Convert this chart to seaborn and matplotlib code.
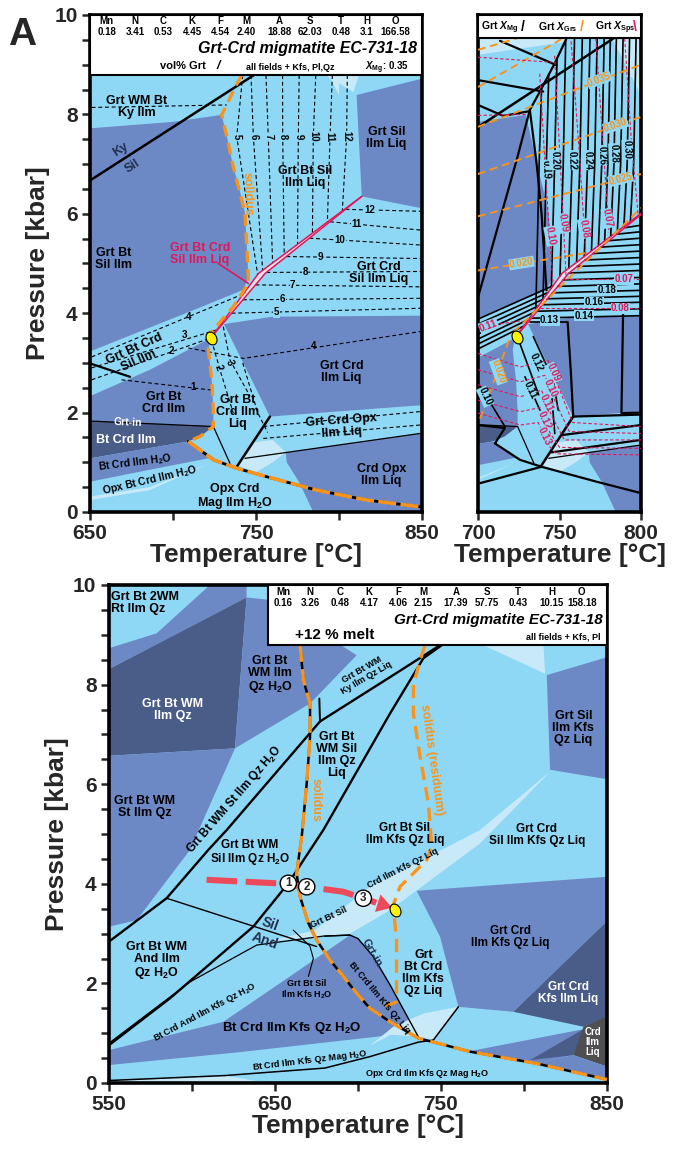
import numpy as np
import matplotlib
matplotlib.use("Agg")
import matplotlib.pyplot as plt
from matplotlib.patches import Rectangle
from matplotlib.markers import MarkerStyle
from matplotlib.transforms import Affine2D
import seaborn as sns

sns.set_theme(style="ticks")
plt.rcParams["font.family"] = ["Liberation Sans", "DejaVu Sans"]
plt.rcParams["font.weight"] = "bold"
plt.rcParams["mathtext.fontset"] = "custom"
plt.rcParams["mathtext.rm"] = "Liberation Sans:bold"
plt.rcParams["mathtext.it"] = "Liberation Sans:italic:bold"
plt.rcParams["mathtext.bf"] = "Liberation Sans:bold"

LIGHT = "#8ED8F6"
MED = "#6C89C6"
DARK = "#4A5C88"
PALE = "#C8EAF8"
GRAY = "#4F4F52"
ORANGE = "#F7941E"
CRIMSON = "#E0185A"
ARROW = "#EC4A5A"
NAVY = "#22304F"
H2O = "H$_2$O"

# ---------------- bulk compositions (header rows) ----------------
oxides = ["Mn", "N", "C", "K", "F", "M", "A", "S", "T", "H", "O"]
bulk_top = ["0.18", "3.41", "0.53", "4.45", "4.54", "2.40", "18.88", "62.03", "0.48", "3.1", "166.58"]
bulk_bot = ["0.16", "3.26", "0.48", "4.17", "4.06", "2.15", "17.39", "57.75", "0.43", "10.15", "158.18"]

# ---------------- upper pseudosection: fields (T degC, P kbar) ----------------
t_grt_bt_sil_ilm = [650, 700, 729.3, 732.8, 736.3, 740, 743.4, 745.4, 742.4, 707, 650]
p_grt_bt_sil_ilm = [7.72, 7.85, 7.99, 7.5, 6.95, 6.5, 6.01, 4.73, 4.47, 3.99, 3.23]
t_grt_sil_ilm_liq = [810.6, 850, 850, 813.7]
p_grt_sil_ilm_liq = [8.39, 8.72, 6.11, 6.35]
t_grt_crd_ilm_liq = [730.7, 760, 850, 850, 758.4]
p_grt_crd_ilm_liq = [3.78, 3.93, 3.95, 2.15, 1.92]
t_crd_opx_ilm_liq = [768, 850, 850, 784.5, 776, 768.5]
p_crd_opx_ilm_liq = [1.2, 1.58, 0, 0, 0.6, 1.0]
t_grt_bt_crd_ilm = [650, 686, 722.7, 721.3, 723.3, 724.3, 724.3, 650]
p_grt_bt_crd_ilm = [2.33, 2.86, 3.5, 3.26, 2.66, 2.05, 1.72, 1.83]
t_bt_crd_ilm = [650, 724.3, 716.3, 709.2, 650]
p_bt_crd_ilm = [1.83, 1.72, 1.52, 1.42, 1.08]
t_bt_crd_ilm_h2o = [650, 709.2, 724.3, 686, 650]
p_bt_crd_ilm_h2o = [1.08, 1.42, 1.1, 0.85, 0.61]
t_pale_opx = [650, 650, 686, 722, 686]
p_pale_opx = [0.24, 0.31, 0.5, 0.98, 0.44]
t_pale_dome = [738.4, 748.4, 760, 768, 760, 750]
p_pale_dome = [0.95, 1.4, 1.45, 1.2, 1.0, 0.8]
t_pale_top = [792, 808.6, 812]
p_pale_top = [8.79, 8.45, 8.79]
t_pale_tr1 = [700, 754, 752, 700]
p_pale_tr1 = [9.53, 9.53, 9.45, 9.2]
t_pale_tr2 = [782, 800, 800]
p_pale_tr2 = [9.53, 9.53, 8.4]

# boundaries
t_kysil = [650, 805]
p_kysil = [6.67, 10.0]
t_red_left = [722.7, 751.5, 813.7]
p_red_left = [3.5, 4.8, 6.35]
t_red_right = [722.7, 755.5, 813.7]
p_red_right = [3.5, 4.8, 6.35]
t_short = [650, 674.1]
p_short = [2.99, 2.72]
t_grtin = [650, 724.3]
p_grtin = [1.83, 1.72]
t_thin1 = [724.3, 734.3]
p_thin1 = [1.72, 0.98]
t_thick1 = [738.4, 758.4]
p_thick1 = [0.91, 1.92]
t_bandbot = [743.4, 848.8]
p_bandbot = [1.08, 1.58]
t_solidus = [741.4, 737.3, 732.3, 729.3, 732.8, 736.3, 743.4, 745.4, 745.4, 736.3, 722.3, 721.3, 723.3, 724.3, 724.3, 716.3, 709.2]
p_solidus = [8.79, 8.54, 8.19, 7.99, 7.5, 6.95, 6.01, 4.73, 4.6, 4.13, 3.59, 3.26, 2.66, 2.05, 1.72, 1.52, 1.42]
t_solidus_low = [709.2, 724.3, 738.4, 756.4, 786.5, 816.7, 850]
p_solidus_low = [1.42, 1.05, 0.88, 0.71, 0.44, 0.24, 0.1]

# vol% Grt isopleths (upper-left panel)
gv_big_n = ["5", "6", "7", "8", "9", "10", "11", "12"]
gv_big_t_top = [742, 747, 756, 766, 776, 786, 796, 805]
gv_big_t_mid = [738.4, 748.4, 757.4, 766.1, 775.5, 784.5, 794.6, 804.6]
gv_big_t_bot = [751, 754, 760, 767, 775, 784, 793, 802]
gv_band_n = ["12", "11", "10", "9", "8", "7", "6", "5"]
gv_band_p_left = [6.09, 5.84, 5.51, 5.14, 4.82, 4.57, 4.27, 4.0]
gv_band_p_right = [6.05, 5.67, 5.37, 5.10, 4.84, 4.53, 4.30, 4.10]
gv_band_t_lab = [818.7, 810.6, 800.6, 788.6, 779.5, 772.1, 766.1, 762.4]
gv_other = [
    ([651, 732.3], [8.14, 8.19]),
    ([651, 744], [3.12, 4.41]),
    ([651, 726], [2.9, 3.66]),
    ([651, 722.7], [2.66, 3.5]),
    ([669, 724.3], [2.66, 2.45]),
    ([709.2, 742.4, 848.8], [3.3, 3.09, 3.63]),
    ([724.3, 728.3, 736.3], [3.33, 2.86, 1.99]),
    ([730.3, 734.3, 746.4], [3.73, 3.06, 2.33]),
    ([742, 751, 757], [3.0, 2.0, 1.6]),
    ([754.4, 848.8], [1.72, 2.02]),
    ([754.4, 848.8], [1.48, 1.75]),
]
gv_other_lab = [("4", 709.2, 3.93, 0), ("3", 707.2, 3.56, 0), ("2", 699.2, 3.23, 0),
                ("1", 712.2, 2.52, 0), ("4", 784.5, 3.33, 0), ("2", 727.3, 2.9, -70),
                ("3", 734.3, 3.0, -70)]

# ---------------- upper-right panel: garnet composition ----------------
tr_black = [
    ([713.5, 748.2], [9.48, 8.99]),
    ([700, 740], [8.69, 8.46]),
    ([700, 715.5, 730.8], [8.19, 7.97, 8.06]),
    ([754.3, 747.1, 738, 731.8, 723.7, 700], [9.53, 9.03, 8.46, 8.09, 7.08, 4.32]),
    ([731.8, 736, 739, 742], [8.09, 7.0, 6.0, 4.46]),
    ([755, 757, 758.4], [3.82, 2.8, 1.92]),
    ([789, 788, 800], [4.0, 1.99, 2.0]),
    ([710.4, 725.7, 739, 772.7, 800], [1.38, 1.05, 0.91, 0.61, 0.38]),
    ([701.2, 739], [0.58, 0.91]),
    ([758.4, 800], [1.92, 1.96]),
    ([752, 800], [1.55, 1.75]),
    ([745, 800], [1.2, 1.45]),
    ([700, 716.5, 710.4], [1.75, 1.69, 1.38]),
]
t_upper_edge = [731.8, 738, 747.1, 754.3]
p_upper_edge = [8.09, 8.46, 9.03, 9.53]
mg_big_t = [737.5, 741.9, 747.0, 752.3, 757.7, 762.5, 767.2, 771.6, 775.9, 779.7, 783.4, 787.5, 791.5, 795.5]
mg_band_p = [3.95, 4.09, 4.22, 4.34, 4.46, 4.59, 4.72, 4.86, 4.99, 5.12, 5.25, 5.38, 5.51, 5.64, 5.77]
mg_left_p = [3.28, 3.38, 3.48, 3.58, 3.68, 3.78, 3.88]
mg_left_t_end = [728, 731, 734, 737, 740, 743, 746]
mg_low = [
    ([731.8, 754.3], [3.83, 3.83]),
    ([725.7, 738], [3.39, 2.29]),
    ([728.8, 738], [2.72, 2.05]),
    ([733.9, 746.1, 749.2], [3.53, 2.66, 2.05]),
    ([745.1, 747.1], [2.39, 1.58]),
    ([701, 716.5], [2.55, 1.72]),
]
grs_lines = [
    ([700, 724], [9.3, 9.53]),
    ([700, 752], [8.55, 9.53]),
    ([700, 800], [7.75, 9.0]),
    ([700, 800], [6.8, 7.95]),
    ([700, 800], [5.95, 6.8]),
    ([700, 768], [4.86, 5.22]),
    ([719, 701], [3.46, 1.85]),
    ([722, 800], [3.62, 6.12]),
]
sps_lines = [
    ([737.9, 742, 746], [8.82, 6.5, 4.61]),
    ([747, 750.5, 754], [9.18, 7.0, 4.75]),
    ([757.1, 762, 766.2], [9.47, 7.3, 5.19]),
    ([772.3, 776.5, 780.4], [9.53, 7.5, 5.62]),
    ([790, 794, 798.2], [9.53, 7.5, 5.99]),
    ([700, 745], [9.15, 9.05]),
    ([700, 730], [7.98, 8.0]),
    ([753, 800], [4.68, 4.68]),
    ([738, 800], [4.1, 4.1]),
    ([700, 727], [3.72, 3.85]),
    ([700, 726, 743, 749, 758, 800], [3.19, 2.92, 3.05, 2.55, 1.80, 1.72]),
    ([700, 726, 741, 747, 756, 800], [2.86, 2.62, 2.75, 2.25, 1.62, 1.58]),
    ([700, 726, 739, 745, 753, 800], [2.56, 2.32, 2.45, 1.95, 1.45, 1.45]),
    ([700, 726, 738, 744, 750, 800], [2.25, 2.02, 2.10, 1.60, 1.30, 1.28]),
    ([700, 726, 737, 743, 748, 800], [1.99, 1.75, 1.80, 1.35, 1.17, 1.15]),
]
mg_labels = [("0.19", 741.9, 6.89, -88), ("0.20", 747, 7.08, -88), ("0.22", 757.7, 7.08, -88),
             ("0.24", 767.2, 7.08, -88), ("0.26", 775.9, 7.18, -88), ("0.28", 783.4, 7.22, -88),
             ("0.30", 791.5, 7.29, -88), ("0.18", 779.4, 4.46, 0), ("0.16", 771.3, 4.22, 0),
             ("0.14", 765.2, 3.95, 0), ("0.13", 743.9, 3.86, 0), ("0.12", 735.9, 3.02, -65),
             ("0.11", 731.8, 2.45, -65), ("0.10", 704.3, 2.32, -65)]
grs_labels = [("0.035", 774.3, 8.7, 21), ("0.030", 784.4, 7.78, 19), ("0.025", 787.4, 6.7, 14),
              ("0.020", 726.7, 5.01, 9), ("0.020", 712.4, 2.82, -70)]
sps_labels = [("0.10", 744.4, 5.55, -80), ("0.09", 752.4, 5.81, -80), ("0.08", 765, 5.7, -80),
              ("0.07", 779.5, 5.91, -80), ("0.07", 789.5, 4.68, 0), ("0.08", 787.4, 4.1, 0),
              ("0.11", 706.5, 3.75, 20), ("0.09", 746.1, 2.8, -65), ("0.10", 744.1, 2.49, -65),
              ("0.11", 742, 2.2, -65), ("0.12", 741, 1.85, -65), ("0.13", 741, 1.52, -65)]

# ---------------- lower pseudosection (+12 % melt) ----------------
b_strip_t = [550, 578.7, 610.8, 632.9, 632.9, 550]
b_strip_p = [8.73, 9.03, 10.0, 10.0, 9.75, 8.31]
b_wm_ilm_qz_t = [550, 632.9, 625.9, 550]
b_wm_ilm_qz_p = [8.31, 9.75, 6.72, 6.57]
b_wm_h2o_t = [632.9, 647, 699.2, 671.1, 625.9]
b_wm_h2o_p = [9.75, 9.7, 8.59, 7.62, 6.72]
b_st_t = [550, 625.9, 598.8, 566.7, 550]
b_st_p = [6.57, 6.72, 4.68, 3.27, 3.14]
b_bt_crd_h2o_t = [550, 550, 618.9, 659, 695.2, 700, 709.2, 719.3, 727, 736.3, 719.3, 628.9]
b_bt_crd_h2o_p = [0.36, 0.66, 1.23, 2.14, 2.97, 2.9, 2.54, 1.97, 1.5, 0.93, 0.96, 0.62]
b_grt_crd_liq_t = [735.3, 850, 850, 793.6, 760.5, 749.4]
b_grt_crd_liq_p = [3.86, 4.14, 3.25, 1.43, 1.53, 2.94]
b_kfs_ilm_liq_t = [850, 793.6, 835.8, 850]
b_kfs_ilm_liq_p = [3.25, 1.43, 1.13, 1.30]
b_low_med_t = [767.5, 835.8, 829.7, 807.7]
b_low_med_p = [0.64, 1.08, 0.56, 0.39]
b_low_dark_t = [803.6, 835.8, 829.7]
b_low_dark_p = [0.46, 1.08, 0.56]
b_crd_ilm_liq_t = [829.7, 835.8, 850, 850]
b_crd_ilm_liq_p = [0.56, 1.13, 1.33, 0.33]
b_corner_t = [807.7, 829.7, 850, 850]
b_corner_p = [0.39, 0.56, 0.33, 0.07]
b_sil_kfs_t = [813.7, 850, 850, 815.7]
b_sil_kfs_p = [8.19, 8.55, 6.10, 6.29]
b_pale_band_t = [645, 674.1, 707.2, 773.5, 815.7, 773.5, 719.3, 695.2]
b_pale_band_p = [2.84, 3.07, 3.94, 5.08, 6.25, 4.81, 3.47, 3.0]
b_pale_dome_t = [707.2, 722, 740, 760.5, 745.3, 736.3, 719.3]
b_pale_dome_p = [0.75, 1.15, 1.4, 1.53, 0.86, 0.93, 0.96]
b_pale_top_t = [775.5, 811.7, 812.7]
b_pale_top_p = [8.79, 8.79, 8.22]
b_pale_bot_t = [550, 550, 620, 645]
b_pale_bot_p = [0, 0.05, 0.15, 0]

b_lineA_t = [550, 584.7, 609.8, 620.9, 677.1]
b_lineA_p = [2.84, 3.71, 4.68, 5.08, 7.26]
b_lineB_t = [677.1, 719.3, 749.4]
b_lineB_p = [7.26, 8.15, 8.79]
b_lineC_t = [677.1, 676.7]
b_lineC_p = [7.26, 7.72]
b_lineD_t = [550, 586.7, 636.9, 658, 679.1, 719.3, 739.4, 750.4]
b_lineD_p = [0.76, 1.70, 3.14, 4.01, 5.08, 7.42, 8.53, 8.79]
b_silAnd_t = [584.7, 675.1]
b_silAnd_p = [3.71, 2.74]
b_grtin_t = [680, 695.2, 700, 709.2, 719.3, 727, 736.3]
b_grtin_p = [2.95, 2.97, 2.9, 2.54, 1.97, 1.5, 0.93]
b_bandtop_t = [550, 598.8, 639, 679.1, 695.2]
b_bandtop_p = [0.8, 2.03, 2.77, 2.95, 2.97]
b_bottom_t = [550, 620, 680, 707.2, 736.3, 745.3]
b_bottom_p = [0.05, 0.15, 0.3, 0.53, 0.82, 0.86]
b_short_t = [745.3, 760.5]
b_short_p = [0.86, 1.53]
b_pointer_t = [661, 671, 673.1, 670.1]
b_pointer_p = [3.07, 2.75, 2.5, 2.14]
b_solidus_t = [665.1, 667.1, 671.1, 671.1, 669.1, 666.1, 663, 665.1, 670.1, 675.1, 683.1, 691.2,
               699.2, 707.2, 719.3, 736.3, 767.5, 807.7, 850]
b_solidus_p = [8.79, 8.09, 7.62, 6.95, 6.02, 4.95, 4.21, 3.74, 3.21, 2.87, 2.47, 2.14,
               1.8, 1.5, 1.23, 0.9, 0.63, 0.39, 0.07]
b_resid_t = [740.4, 737.4, 733.4, 733.4, 737.4, 742.4, 744.4, 741.4, 725.3, 721.2, 723.2, 723.2, 723.2, 715.3]
b_resid_p = [8.79, 8.49, 8.0, 7.4, 6.55, 5.62, 4.75, 4.48, 3.94, 3.57, 2.87, 2.07, 1.63, 1.53]
b_path_t = [608.8, 651, 669.1, 691.2, 703.2, 711]
b_path_p = [4.08, 4.01, 3.94, 3.84, 3.71, 3.62]
b_steps = ["1", "2", "3"]
b_steps_t = [658, 669.1, 703.2]
b_steps_p = [4.01, 3.94, 3.71]


def poly(ax, t, p, color, z=1.0):
    ax.fill(t, p, facecolor=color, edgecolor="none", lw=0, zorder=z)


def solid(ax, t, p, color="black", lw=1.6, z=3):
    sns.lineplot(x=t, y=p, sort=False, estimator=None, ax=ax, color=color,
                 lw=lw, zorder=z, legend=False)


def dashed(ax, t, p, color="black", lw=0.8, dash=(3.5, 2.5), z=3):
    ax.plot(t, p, color=color, lw=lw, dashes=dash, zorder=z)


def txt(ax, t, p, s, size=8.5, color="black", rot=0, ha="center", bg=None, z=6, **kw):
    bbox = dict(boxstyle="square,pad=0.05", fc=bg, ec="none") if bg else None
    ax.text(t, p, s, fontsize=size, color=color, rotation=rot, ha=ha, va="center",
            fontweight="bold", rotation_mode="anchor", linespacing=1.0, zorder=z,
            bbox=bbox, **kw)


def yellow(ax, t, p):
    ms = MarkerStyle("o", transform=Affine2D().scale(0.75, 1.0).rotate_deg(28))
    ax.scatter([t], [p], marker=ms, s=95, c="#FFF200", edgecolors="black",
               linewidths=0.8, zorder=9)


def frame(ax, xlim, xticks, xlabels, ylab=True):
    ax.set_xlim(*xlim)
    ax.set_ylim(0, 10)
    ax.grid(False)
    ax.set_xticks(xticks)
    ax.set_xticklabels(xlabels)
    yt = np.arange(0, 10.01, 0.5)
    ax.set_yticks(yt)
    ax.set_yticklabels([f"{v:.0f}" if v % 2 == 0 else "" for v in yt])
    ax.tick_params(direction="out", length=6, width=1.8, labelsize=15, pad=3)
    if not ylab:
        ax.tick_params(axis="y", left=False, labelleft=False)
    for s in ax.spines.values():
        s.set_linewidth(2.6)
        s.set_color("black")
    ax.set_xlabel("Temperature [°C]", fontsize=19, fontweight="bold", labelpad=0)
    ax.set_ylabel("Pressure [kbar]" if ylab else "", fontsize=19, fontweight="bold", labelpad=3)


def top_fields(ax):
    ax.set_facecolor(LIGHT)
    poly(ax, t_grt_bt_sil_ilm, p_grt_bt_sil_ilm, MED)
    poly(ax, t_grt_sil_ilm_liq, p_grt_sil_ilm_liq, MED)
    poly(ax, t_grt_crd_ilm_liq, p_grt_crd_ilm_liq, MED)
    poly(ax, t_crd_opx_ilm_liq, p_crd_opx_ilm_liq, MED)
    poly(ax, t_grt_bt_crd_ilm, p_grt_bt_crd_ilm, MED)
    poly(ax, t_bt_crd_ilm, p_bt_crd_ilm, DARK)
    poly(ax, t_bt_crd_ilm_h2o, p_bt_crd_ilm_h2o, MED)
    for t, p in [(t_pale_opx, p_pale_opx), (t_pale_dome, p_pale_dome), (t_pale_top, p_pale_top),
                 (t_pale_tr1, p_pale_tr1), (t_pale_tr2, p_pale_tr2)]:
        poly(ax, t, p, PALE, z=1.2)
    # narrow Grt Bt Crd Sil Ilm Liq field
    poly(ax, t_red_left + t_red_right[::-1], p_red_left + p_red_right[::-1], "#E4E4E8", z=1.3)
    solid(ax, t_kysil, p_kysil, lw=1.8)
    solid(ax, t_thick1, p_thick1, lw=1.8)
    solid(ax, t_bandbot, p_bandbot, lw=0.9)
    solid(ax, t_grtin, p_grtin, lw=0.9)
    solid(ax, t_thin1, p_thin1, lw=0.9)
    solid(ax, t_short, p_short, lw=1.6)
    solid(ax, t_red_left, p_red_left, color=CRIMSON, lw=1.1, z=4)
    solid(ax, t_red_right, p_red_right, color=CRIMSON, lw=1.1, z=4)


fig = plt.figure(figsize=(6.76, 11.53), dpi=100)
ax1 = fig.add_axes([90 / 676, 1 - 512 / 1153, 332 / 676, 497 / 1153])
ax2 = fig.add_axes([478 / 676, 1 - 512 / 1153, 163 / 676, 497 / 1153])
ax3 = fig.add_axes([109 / 676, 1 - 1083 / 1153, 498 / 676, 498 / 1153])

# ================= upper-left: vol% Grt =================
top_fields(ax1)
dashed(ax1, t_solidus, p_solidus, color=ORANGE, lw=2.4, dash=(3.5, 2.0), z=5)
solid(ax1, t_solidus_low, p_solidus_low, lw=2.0, z=4)
dashed(ax1, t_solidus_low, p_solidus_low, color=ORANGE, lw=2.6, dash=(5, 1.2), z=5)
for n, tt, tm, tb in zip(gv_big_n, gv_big_t_top, gv_big_t_mid, gv_big_t_bot):
    pb = np.interp(tb, t_red_left, p_red_left)
    dashed(ax1, [tt, tm, tb], [8.79, 7.55, pb])
    txt(ax1, tm, 7.55, n, size=7, rot=-88, bg=LIGHT)
for n, pl, pr, tl in zip(gv_band_n, gv_band_p_left, gv_band_p_right, gv_band_t_lab):
    t0 = np.interp(pl, p_red_right, t_red_right)
    dashed(ax1, [t0, 850], [pl, pr])
    txt(ax1, tl, np.interp(tl, [t0, 850], [pl, pr]), n, size=7, bg=LIGHT)
for t, p in gv_other:
    dashed(ax1, t, p)
for s, t, p, r in gv_other_lab:
    txt(ax1, t, p, s, size=7, rot=r, bg=None)
solid(ax1, [727.3, 745.4], [5.0, 4.6], color=CRIMSON, lw=1.2, z=5)
yellow(ax1, 722.7, 3.5)

tl_text = [
    ("Grt WM Bt\nKy Ilm", 678.1, 8.14, 9, "black", 0),
    ("Ky", 668.5, 7.3, 9, NAVY, 33),
    ("Sil", 675.5, 6.96, 9, NAVY, 33),
    ("Grt Bt Sil\nIlm Liq", 779.5, 6.75, 9, "black", 0),
    ("Grt Sil\nIlm Liq", 828.7, 7.52, 9, "black", 0),
    ("Grt Bt\nSil Ilm", 664.1, 5.1, 9, "black", 0),
    ("Grt Bt Crd\nSil Ilm Liq", 716.3, 5.2, 9, CRIMSON, 0),
    ("Grt Crd\nSil Ilm Liq", 823.7, 4.8, 9, "black", 0),
    ("Grt Bt Crd\nSil Ilm", 678.1, 3.16, 9, "black", 24),
    ("Grt Crd\nIlm Liq", 801.6, 2.82, 9, "black", 0),
    ("Grt Bt\nCrd Ilm", 694.2, 2.19, 9, "black", 0),
    ("Grt Bt\nCrd Ilm\nLiq", 738.8, 2.02, 9, "black", 0),
    ("Grt Crd Opx\nIlm Liq", 801.6, 1.72, 9, "black", 4),
    ("Grt-in", 673.1, 1.8, 7.5, "white", -2),
    ("Bt Crd Ilm", 671.7, 1.44, 9, "white", 0),
    ("Bt Crd Ilm " + H2O, 677.1, 0.99, 7.5, "black", 7),
    ("Opx Bt Crd Ilm " + H2O, 686.1, 0.64, 7.5, "black", 13),
    ("Opx Crd\nMag Ilm " + H2O, 737.3, 0.31, 9, "black", 0),
    ("Crd Opx\nIlm Liq", 825.7, 0.74, 9, "black", 0),
    ("solidus", 744.6, 6.41, 9, ORANGE, -88),
]
for s, t, p, size, c, r in tl_text:
    txt(ax1, t, p, s, size=size, color=c, rot=r)

ax1.add_patch(Rectangle((650, 8.79), 200, 1.21, fc="white", ec="black", lw=1.5, zorder=8))
hdr_t_top = [660, 677.1, 694.2, 711.6, 728.3, 744, 764.1, 782.5, 801, 816.7, 833.7]
for sym, val, t in zip(oxides, bulk_top, hdr_t_top):
    txt(ax1, t, 9.87, sym, size=7, z=9)
    txt(ax1, t, 9.66, val, size=7, z=9)
txt(ax1, 847, 9.33, "Grt-Crd migmatite EC-731-18", size=11.5, ha="right", z=9, fontstyle="italic")
txt(ax1, 706.2, 8.97, "vol% Grt", size=8, z=9)
txt(ax1, 727.3, 8.97, "/", size=9, z=9, fontstyle="italic")
txt(ax1, 770.5, 8.94, "all fields + Kfs, Pl,Qz", size=6.5, z=9)
txt(ax1, 829, 8.94, r"$X_{\rm Mg}$: 0.35", size=7, z=9)
frame(ax1, (650, 850), [650, 700, 750, 800, 850], ["650", "", "750", "", "850"])

# ================= upper-right: Grt composition =================
top_fields(ax2)
for t, p in tr_black:
    solid(ax2, t, p, lw=1.6)
for t7 in mg_big_t:
    t_top = t7 + 1.5
    p_top = min(9.53, float(np.interp(t_top, t_upper_edge, p_upper_edge, right=9.53)))
    t_bot = t7 - 2
    p_bot = float(np.interp(t_bot, t_red_left, p_red_left))
    solid(ax2, [t_top, t7, t_bot], [p_top, 7.0, p_bot], lw=1.2)
for pr in mg_band_p:
    pl = pr - 0.05
    t0 = float(np.interp(pl, p_red_right, t_red_right))
    solid(ax2, [t0, 800], [pl, pr], lw=1.2)
for p0, te in zip(mg_left_p, mg_left_t_end):
    solid(ax2, [700, te], [p0, float(np.interp(te, t_red_left, p_red_left))], lw=1.2)
for t, p in mg_low:
    solid(ax2, t, p, lw=1.2)
for t, p in grs_lines:
    dashed(ax2, t, p, color=ORANGE, lw=1.4, dash=(4, 2.5), z=4)
for t, p in sps_lines:
    dashed(ax2, t, p, color=CRIMSON, lw=0.8, dash=(3, 2), z=4)
for s, t, p, r in mg_labels:
    txt(ax2, t, p, s, size=7, rot=r, bg=LIGHT, z=7)
for s, t, p, r in grs_labels:
    txt(ax2, t, p, s, size=7, color=ORANGE, rot=r, bg=LIGHT, z=7)
for s, t, p, r in sps_labels:
    txt(ax2, t, p, s, size=7, color=CRIMSON, rot=r, bg=LIGHT, z=7)
yellow(ax2, 723.7, 3.52)
ax2.add_patch(Rectangle((700, 9.53), 100, 0.47, fc="white", ec="black", lw=1.5, zorder=8))
txt(ax2, 713.5, 9.75, r"Grt $X_{\rm Mg}$", size=7.5, z=9)
txt(ax2, 727.5, 9.75, "/", size=10, z=9)
txt(ax2, 749.2, 9.75, r"Grt $X_{\rm Grs}$", size=7.5, z=9)
txt(ax2, 763.5, 9.75, "/", size=10, color=ORANGE, z=9)
txt(ax2, 783.9, 9.75, r"Grt $X_{\rm Sps}$", size=7.5, z=9)
txt(ax2, 796.5, 9.75, "\\", size=10, color=CRIMSON, z=9)
frame(ax2, (700, 800), [700, 750, 800], ["700", "750", "800"], ylab=False)

# ================= lower panel =================
ax3.set_facecolor(LIGHT)
poly(ax3, b_strip_t, b_strip_p, MED)
poly(ax3, b_wm_ilm_qz_t, b_wm_ilm_qz_p, DARK)
poly(ax3, b_wm_h2o_t, b_wm_h2o_p, MED)
poly(ax3, b_st_t, b_st_p, MED)
poly(ax3, b_bt_crd_h2o_t, b_bt_crd_h2o_p, MED)
poly(ax3, b_grt_crd_liq_t, b_grt_crd_liq_p, MED)
poly(ax3, b_kfs_ilm_liq_t, b_kfs_ilm_liq_p, DARK)
poly(ax3, b_low_med_t, b_low_med_p, MED)
poly(ax3, b_low_dark_t, b_low_dark_p, DARK)
poly(ax3, b_crd_ilm_liq_t, b_crd_ilm_liq_p, GRAY)
poly(ax3, b_corner_t, b_corner_p, MED)
poly(ax3, b_sil_kfs_t, b_sil_kfs_p, MED)
for t, p in [(b_pale_band_t, b_pale_band_p), (b_pale_dome_t, b_pale_dome_p),
             (b_pale_top_t, b_pale_top_p), (b_pale_bot_t, b_pale_bot_p)]:
    poly(ax3, t, p, PALE, z=1.2)

solid(ax3, b_lineA_t, b_lineA_p, lw=1.7)
solid(ax3, b_lineB_t, b_lineB_p, lw=1.7)
solid(ax3, b_lineC_t, b_lineC_p, lw=1.4)
solid(ax3, b_lineD_t, b_lineD_p, lw=1.7)
solid(ax3, b_silAnd_t, b_silAnd_p, lw=1.0)
solid(ax3, b_grtin_t, b_grtin_p, lw=1.0)
solid(ax3, b_bandtop_t, b_bandtop_p, lw=0.9)
solid(ax3, b_bottom_t, b_bottom_p, lw=1.1)
solid(ax3, b_short_t, b_short_p, lw=1.1)
solid(ax3, b_pointer_t, b_pointer_p, lw=0.8)
solid(ax3, b_solidus_t, b_solidus_p, lw=1.8, z=4)
dashed(ax3, b_solidus_t, b_solidus_p, color=ORANGE, lw=2.4, dash=(5, 2.2), z=5)
dashed(ax3, b_resid_t, b_resid_p, color=ORANGE, lw=2.4, dash=(4, 2.2), z=5)

ax3.plot(b_path_t, b_path_p, color=ARROW, lw=4.4, dashes=(5, 1.4), zorder=6, solid_capstyle="butt")
ax3.annotate("", xy=(720.5, 3.52), xytext=(b_path_t[-1], b_path_p[-1]),
             arrowprops=dict(arrowstyle="-|>,head_length=0.9,head_width=0.55", color=ARROW,
                             lw=0, shrinkA=0, shrinkB=0), zorder=6)
for s, t, p in zip(b_steps, b_steps_t, b_steps_p):
    ax3.text(t, p, s, fontsize=8.5, ha="center", va="center", fontweight="bold", zorder=8,
             bbox=dict(boxstyle="circle,pad=0.18", fc="white", ec="black", lw=1.0))
yellow(ax3, 722.2, 3.47)

bt_text = [
    ("Grt Bt 2WM\nRt Ilm Qz", 551.5, 9.63, 9, "black", 0, "left"),
    ("Grt Bt WM\nIlm Qz", 588.2, 7.49, 9, "white", 0, "center"),
    ("Grt Bt\nWM Ilm\nQz " + H2O, 647, 8.19, 9, "black", 0, "center"),
    ("Grt Bt WM\nSt Ilm Qz", 571.7, 5.54, 9, "black", 0, "center"),
    ("Grt Bt WM St Ilm Qz " + H2O, 625.5, 5.7, 8.5, "black", 49, "center"),
    ("Grt Bt WM\nKy Ilm Qz Liq", 703.5, 8.22, 6.5, "black", 30, "center"),
    ("Grt Bt\nWM Sil\nIlm Qz\nLiq", 687.1, 6.59, 9, "black", 0, "center"),
    ("solidus", 674.6, 5.68, 9, ORANGE, -90, "center"),
    ("solidus (residuum)", 744.2, 6.5, 9, ORANGE, -82, "center"),
    ("Grt Sil\nIlm Kfs\nQz Liq", 829.7, 7.12, 9, "black", 0, "center"),
    ("Grt Crd\nSil Ilm Kfs Qz Liq", 807.7, 4.98, 8.5, "black", 0, "center"),
    ("Grt Bt Sil\nIlm Kfs Qz Liq", 728.3, 5.0, 8.5, "black", 0, "center"),
    ("Grt Bt WM\nSil Ilm Qz " + H2O, 634.9, 4.61, 8.5, "black", 0, "center"),
    ("Grt Bt WM\nAnd Ilm\nQz " + H2O, 578.7, 2.44, 9, "black", 0, "center"),
    ("Grt Bt Sil", 682.1, 3.33, 6.5, "black", 25, "center"),
    ("Crd Ilm Kfs Qz Liq", 727, 4.32, 6.5, "black", 27, "center"),
    ("Sil", 647, 3.19, 10, NAVY, -20, "center"),
    ("And", 644, 2.86, 10, NAVY, -20, "center"),
    ("Grt-in", 708.2, 2.62, 8, NAVY, -60, "center"),
    ("Bt Crd Ilm Kfs Qz Liq", 713, 1.72, 6.5, "black", -50, "center"),
    ("Grt Bt Sil\nIlm Kfs " + H2O, 669.1, 1.87, 6.5, "black", 0, "center"),
    ("Bt Crd And Ilm Kfs Qz " + H2O, 607.8, 1.43, 6.5, "black", 28, "center"),
    ("Bt Crd Ilm Kfs Qz " + H2O, 660, 1.1, 9.5, "black", 0, "center"),
    ("Bt Crd Ilm Kfs Qz Mag " + H2O, 671.1, 0.46, 6.5, "black", 7, "center"),
    ("Opx Crd Ilm Kfs Qz Mag " + H2O, 741.4, 0.19, 6.5, "black", 0, "center"),
    ("Grt\nBt Crd\nIlm Kfs\nQz Liq", 739.4, 2.2, 9, "black", 0, "center"),
    ("Grt Crd\nIlm Kfs Qz Liq", 791.6, 2.94, 8.5, "black", 0, "center"),
    ("Grt Crd\nKfs Ilm Liq", 826.6, 1.8, 8.5, "white", 0, "center"),
    ("Crd\nIlm\nLiq", 841.4, 0.83, 7, "white", 0, "center"),
]
for s, t, p, size, c, r, ha in bt_text:
    txt(ax3, t, p, s, size=size, color=c, rot=r, ha=ha)

ax3.add_patch(Rectangle((646, 8.79), 204, 1.21, fc="white", ec="black", lw=1.5, zorder=8))
hdr_t_bot = [655, 671.1, 689.2, 706.8, 724.3, 739.4, 759.1, 777.5, 796.6, 816.7, 834.8]
for sym, val, t in zip(oxides, bulk_bot, hdr_t_bot):
    txt(ax3, t, 9.85, sym, size=7, z=9)
    txt(ax3, t, 9.64, val, size=7, z=9)
txt(ax3, 847.5, 9.3, "Grt-Crd migmatite EC-731-18", size=11, ha="right", z=9, fontstyle="italic")
txt(ax3, 686.1, 9.0, "+12 % melt", size=11, z=9)
txt(ax3, 846, 8.96, "all fields + Kfs, Pl", size=6.5, ha="right", z=9)
frame(ax3, (550, 850), [550, 600, 650, 700, 750, 800, 850],
      ["550", "", "650", "", "750", "", "850"])

fig.text(0.012, 0.985, "A", fontsize=28, fontweight="bold", va="top", ha="left")

fig.savefig("out.png", dpi=100)
